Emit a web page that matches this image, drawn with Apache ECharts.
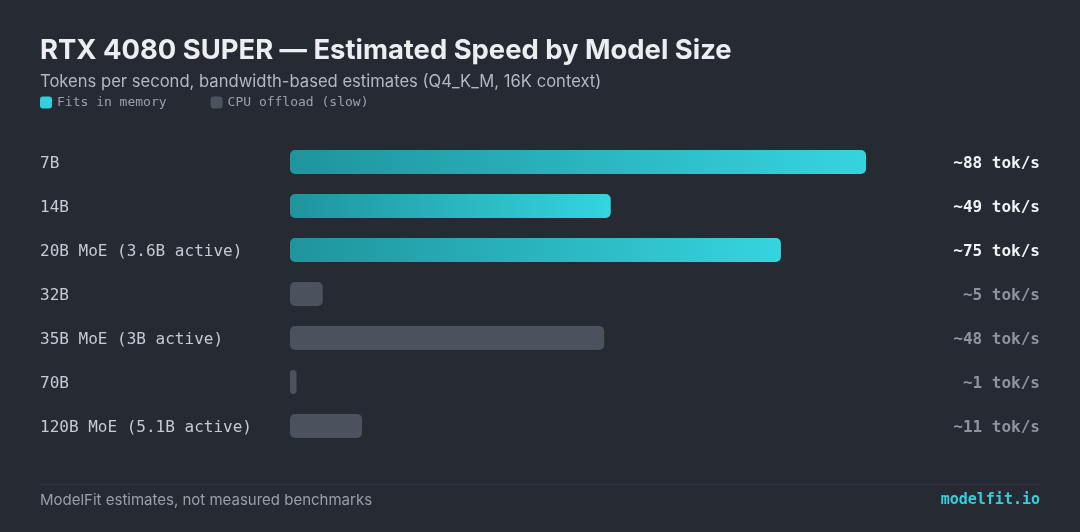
<!DOCTYPE html>
<html lang="en">
<head>
    <meta charset="utf-8" />
    <title>RTX 4080 SUPER speed</title>
    <script type="text/javascript" src="https://cdn.jsdelivr.net/npm/echarts@6/dist/echarts.min.js"></script>
</head>
<body style="margin:0;background-color:#262a33">
    <div id="container" style="width:1080px;height:532px;"></div>
<script type="text/javascript">
    var models = ['7B', '14B', '20B MoE (3.6B active)', '32B', '35B MoE (3B active)', '70B', '120B MoE (5.1B active)'];
    var speeds = [88, 49, 75, 5, 48, 1, 11];
    var fitsInMemory = [true, true, true, false, false, false, false];

    var mono = '"DejaVu Sans Mono", monospace';
    var sans = 'Inter, "Noto Sans", sans-serif';

    // split into two series so the legend shows both groups
    var fitsData = [], offloadData = [];
    for (var i = 0; i < speeds.length; i++) {
        fitsData.push(fitsInMemory[i] ? speeds[i] : '-');
        offloadData.push(fitsInMemory[i] ? '-' : speeds[i]);
    }
    var valueLabels = speeds.map(function (v) { return '~' + v + ' tok/s'; });

    var myChart = echarts.init(document.getElementById('container'));
    var option = {
        backgroundColor: '#262a33',
        title: {
            text: 'RTX 4080 SUPER — Estimated Speed by Model Size',
            subtext: 'Tokens per second, bandwidth-based estimates (Q4_K_M, 16K context)',
            left: 35,
            top: 32,
            itemGap: 9,
            textStyle: { color: '#eceef2', fontFamily: sans, fontSize: 27.4, fontWeight: 'bold' },
            subtextStyle: { color: '#b3b8c2', fontFamily: sans, fontSize: 16.6 }
        },
        legend: {
            left: 35,
            top: 91,
            icon: 'roundRect',
            itemWidth: 12,
            itemHeight: 12,
            itemGap: 44,
            textStyle: { color: '#9aa0aa', fontFamily: mono, fontSize: 13 },
            data: [
                { name: 'Fits in memory', itemStyle: { color: '#33d0dc' } },
                { name: 'CPU offload (slow)', itemStyle: { color: '#4a525e' } }
            ]
        },
        grid: { left: 290, top: 140, width: 576, height: 308, outerBoundsMode: 'none' },
        xAxis: {
            type: 'value',
            min: 0,
            max: 88,
            show: false
        },
        yAxis: [
            {
                type: 'category',
                inverse: true,
                data: models,
                axisLine: { show: false },
                axisTick: { show: false },
                axisLabel: { align: 'left', verticalAlign: 'top', lineHeight: 4, margin: 250, color: '#c6cad2', fontFamily: mono, fontSize: 16 }
            },
            {
                type: 'category',
                inverse: true,
                position: 'right',
                data: valueLabels,
                axisLine: { show: false },
                axisTick: { show: false },
                axisLabel: {
                    align: 'right',
                    verticalAlign: 'top',
                    lineHeight: 4,
                    margin: 174,
                    fontFamily: mono,
                    fontSize: 16,
                    fontWeight: 'bold',
                    color: function (value, index) {
                        return fitsInMemory[index] ? '#f1f3f6' : '#8e949f';
                    }
                }
            }
        ],
        series: [
            {
                name: 'Fits in memory',
                type: 'bar',
                stack: 'speed',
                barWidth: 24,
                data: fitsData,
                itemStyle: {
                    borderRadius: 5,
                    color: new echarts.graphic.LinearGradient(0, 0, 1, 0, [
                        { offset: 0, color: '#1f949d' },
                        { offset: 1, color: '#35d4df' }
                    ])
                }
            },
            {
                name: 'CPU offload (slow)',
                type: 'bar',
                stack: 'speed',
                barWidth: 24,
                data: offloadData,
                itemStyle: { borderRadius: 5, color: '#4a525e' }
            }
        ],
        graphic: [
            {
                type: 'line',
                shape: { x1: 40, y1: 484.5, x2: 1040, y2: 484.5 },
                style: { stroke: '#323741', lineWidth: 1 }
            },
            {
                type: 'text',
                left: 40,
                top: 493,
                style: { text: 'ModelFit estimates, not measured benchmarks', fill: '#9a9fa8', font: '15px ' + sans }
            },
            {
                type: 'text',
                right: 40,
                top: 493,
                style: { text: 'modelfit.io', fill: '#33d0dc', font: 'bold 15px ' + mono }
            }
        ]
    };
    myChart.setOption(option);
</script>
</body>
</html>
